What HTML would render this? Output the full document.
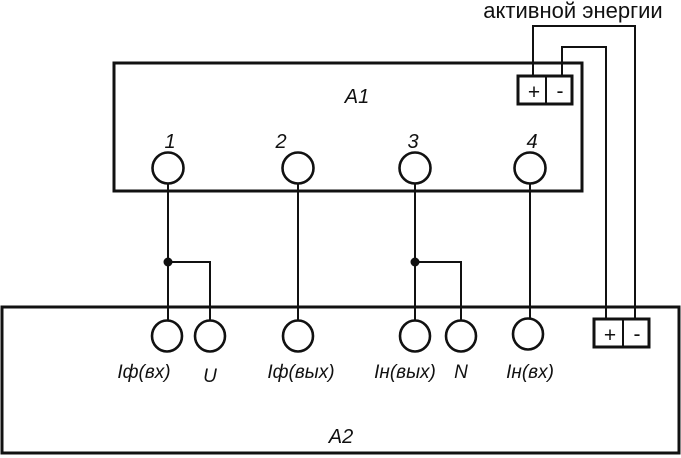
<!DOCTYPE html>
<html><head><meta charset="utf-8"><style>body{margin:0;background:#fff}svg{display:block}</style></head><body>
<svg width="681" height="458" viewBox="0 0 681 458" xmlns="http://www.w3.org/2000/svg">
<g fill="none" stroke="#111" stroke-width="2">
<rect x="114" y="63" width="468" height="128" stroke-width="3"/>
<rect x="2" y="307" width="677" height="146" stroke-width="3"/>
<rect x="518" y="76" width="54" height="28" stroke-width="3"/>
<line x1="546" y1="76" x2="546" y2="104"/>
<rect x="594" y="319" width="55" height="28" stroke-width="3"/>
<line x1="623" y1="319" x2="623" y2="347"/>
<polyline points="533,76 533,26 635,26 635,319"/>
<polyline points="562,76 562,47 606,47 606,319"/>
<g stroke-width="2.6">
<circle cx="168" cy="168" r="15.5"/><circle cx="298" cy="168" r="15.5"/><circle cx="415" cy="168" r="15.5"/><circle cx="530" cy="168" r="15.5"/>
<ellipse cx="167" cy="336" rx="15" ry="15.5"/><ellipse cx="210" cy="336" rx="15" ry="15.5"/><ellipse cx="298" cy="336" rx="15" ry="15.5"/>
<ellipse cx="415" cy="336" rx="15" ry="15.5"/><ellipse cx="461" cy="336" rx="15" ry="15.5"/><ellipse cx="528" cy="334" rx="15" ry="15.5"/>
</g>
<line x1="168" y1="183" x2="168" y2="321"/>
<polyline points="168,262 210,262 210,321"/>
<line x1="298" y1="183" x2="298" y2="321"/>
<line x1="415" y1="183" x2="415" y2="321"/>
<polyline points="415,262 461,262 461,321"/>
<line x1="530" y1="183" x2="530" y2="319"/>
</g>
<circle cx="168" cy="262" r="4.5" fill="#111"/><circle cx="415" cy="262" r="4.5" fill="#111"/>
<g font-family="Liberation Sans, sans-serif" font-style="italic" font-size="20" fill="#111" text-anchor="middle">
<text x="170" y="148">1</text><text x="281" y="148">2</text><text x="413" y="148">3</text><text x="532" y="148">4</text>
<text x="357" y="103">A1</text><text x="341" y="443">A2</text>
<g font-size="19"><text x="144" y="378">Iф(вх)</text><text x="210" y="382">U</text><text x="301" y="378">Iф(вых)</text>
<text x="405" y="378">Iн(вых)</text><text x="461" y="378">N</text><text x="530" y="378">Iн(вх)</text></g>
<g font-style="normal" font-size="21"><text x="534" y="99">+</text><text x="560" y="98">-</text><text x="610" y="342">+</text><text x="637" y="341">-</text></g>
<text x="573" y="18" font-style="normal" font-size="22">активной энергии</text>
</g>
</svg>
</body></html>
